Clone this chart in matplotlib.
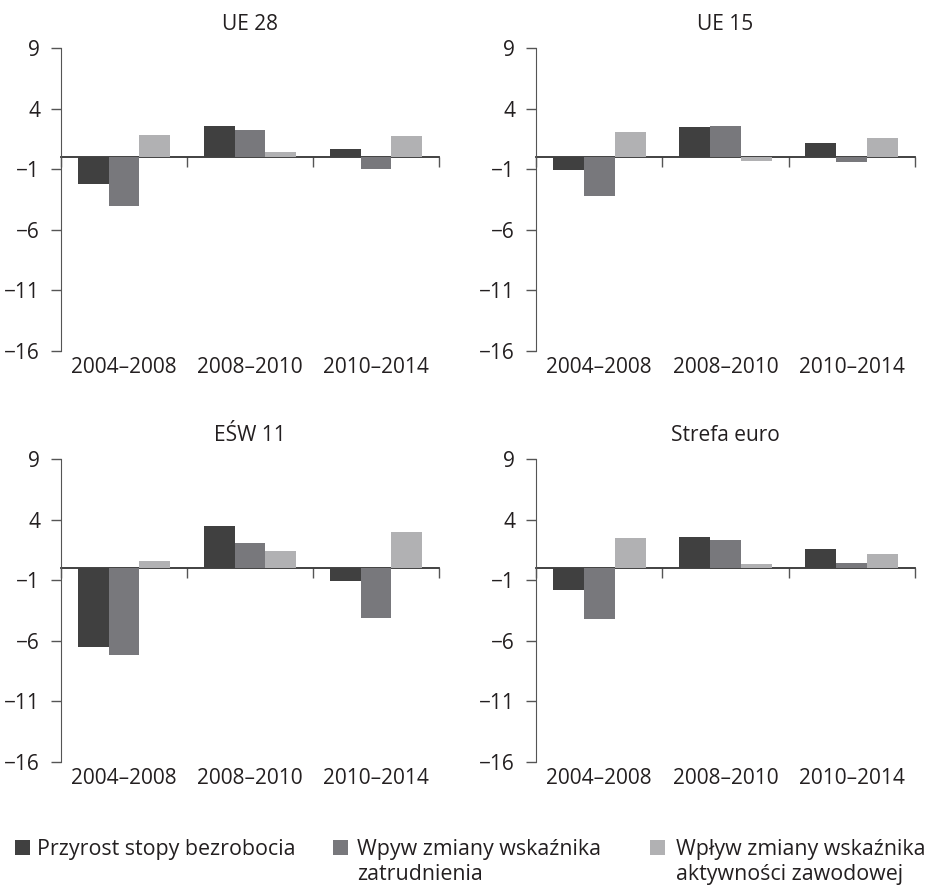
"""Unemployment change decomposition, four regions, 2004-2014 periods."""

import matplotlib

matplotlib.use("Agg")
import matplotlib.pyplot as plt
import numpy as np
from matplotlib.patches import Rectangle

PERIODS = ["2004–2008", "2008–2010", "2010–2014"]
REGIONS = ["UE 28", "UE 15", "EŚW 11", "Strefa euro"]

# one row per region, one value per period
bezrobocie = [
    [-2.25, 2.6, 0.7],
    [-1.1, 2.45, 1.15],
    [-6.55, 3.45, -1.05],
    [-1.8, 2.6, 1.6],
]
zatrudnienie = [
    [-4.0, 2.2, -1.0],
    [-3.25, 2.55, -0.4],
    [-7.2, 2.05, -4.15],
    [-4.2, 2.3, 0.4],
]
aktywnosc = [
    [1.8, 0.4, 1.7],
    [2.1, -0.3, 1.55],
    [0.55, 1.4, 3.0],
    [2.45, 0.3, 1.2],
]

SERIES_LABELS = [
    "Przyrost stopy bezrobocia",
    "Wpyw zmiany wskaźnika\nzatrudnienia",
    "Wpływ zmiany wskaźnika\naktywności zawodowej",
]
COLORS = ["#404040", "#78787c", "#b1b1b3"]
YTICKS = [9, 4, -1, -6, -11, -16]
YMIN, YMAX = -16, 9

TEXT = "#231f20"
AXIS = "#555555"

plt.rcParams["font.family"] = ["Open Sans", "DejaVu Sans"]
plt.rcParams["font.size"] = 15

W, H = 931, 888
fig = plt.figure(figsize=(W / 100, H / 100), dpi=100)


def add_axes_px(x0, y0, x1, y1):
    return fig.add_axes([x0 / W, 1 - y1 / H, (x1 - x0) / W, (y1 - y0) / H])


boxes = [(61, 48, 439, 351), (536, 48, 915, 351), (61, 459, 439, 762), (536, 459, 915, 762)]
x = np.arange(len(PERIODS))
width = 0.245

for i, (title, box) in enumerate(zip(REGIONS, boxes)):
    ax = add_axes_px(*box)
    series = [bezrobocie[i], zatrudnienie[i], aktywnosc[i]]
    for j, (vals, color) in enumerate(zip(series, COLORS)):
        ax.bar(x + (j - 1) * width, vals, width, color=color, linewidth=0)

    ax.set_xlim(-0.5, 2.5)
    ax.set_ylim(YMIN, YMAX)
    ax.set_yticks(YTICKS)
    ax.set_xticks(x, PERIODS)
    ax.tick_params(axis="x", length=0, pad=4, labelcolor=TEXT)
    ax.tick_params(axis="y", length=7, width=1, color=AXIS, pad=8, labelcolor=TEXT)
    for side in ["top", "right", "bottom"]:
        ax.spines[side].set_visible(False)
    ax.spines["left"].set_color(AXIS)
    ax.set_title(title, pad=13, color=TEXT, fontsize=15)

    # category axis crossing at zero, with ticks between the groups
    base = ax.secondary_xaxis((0 - YMIN) / (YMAX - YMIN))
    base.set_alignment("bottom")
    base.set_xticks([-0.5, 0.5, 1.5, 2.5])
    base.tick_params(length=7, width=1, color=AXIS, labelbottom=False)
    base.spines["bottom"].set_color("#333333")
    base.spines["bottom"].set_linewidth(1.3)

# legend drawn by hand so the square sits beside the first line of each label
square_x = [15, 333, 650]
text_x = [37, 357, 676]
first_baseline, line_step = 855, 25
for label, color, sx, tx in zip(SERIES_LABELS, COLORS, square_x, text_x):
    fig.patches.append(Rectangle((sx / W, 1 - first_baseline / H), 15 / W, 15 / H,
                                 transform=fig.transFigure, color=color, linewidth=0))
    for k, line in enumerate(label.split("\n")):
        fig.text(tx / W, 1 - (first_baseline + k * line_step) / H, line,
                 va="baseline", ha="left", color=TEXT, fontsize=15.4)

fig.savefig("out.png", dpi=100)
